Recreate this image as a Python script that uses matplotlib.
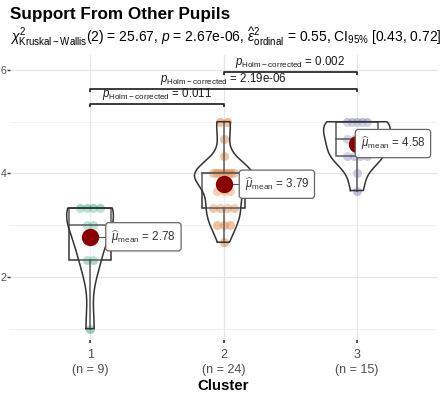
import numpy as np
import matplotlib
matplotlib.use("Agg")
import matplotlib.pyplot as plt
from matplotlib.patches import Rectangle

plt.rcParams['font.family'] = ['Liberation Sans', 'DejaVu Sans']
plt.rcParams['mathtext.fontset'] = 'custom'
plt.rcParams['mathtext.rm'] = 'Liberation Sans'
plt.rcParams['mathtext.it'] = 'Liberation Sans:italic'
plt.rcParams['mathtext.bf'] = 'Liberation Sans:bold'

# ---- data -------------------------------------------------------------
clusters = ["1", "2", "3"]
cluster1 = [3.33, 3.33, 3.33, 3.33, 3.0, 3.0, 2.33, 2.33, 1.0]
cluster2 = [5.0, 5.0, 4.67, 4.33, 4.0, 4.0, 4.0, 4.0, 4.0, 4.0, 4.0, 4.0, 4.0,
            3.67, 3.67, 3.67, 3.33, 3.33, 3.33, 3.33, 3.0, 3.0, 3.0, 2.67]
cluster3 = [5.0, 5.0, 5.0, 5.0, 5.0, 4.67, 4.67, 4.67, 4.67,
            4.33, 4.33, 4.33, 4.33, 4.0, 3.67]
groups = [cluster1, cluster2, cluster3]

pair_groups = [(1, 2), (1, 3), (2, 3)]
pair_pvalues = ["0.011", "2.19e-06", "0.002"]
pair_heights = [5.34, 5.63, 5.96]

title = "Support From Other Pupils"
subtitle = (r"$\chi^2_{\mathrm{Kruskal-Wallis}}$(2) = 25.67, $\mathit{p}$ = 2.67e-06, "
            r"$\widehat{\varepsilon}^2_{\mathrm{ordinal}}$ = 0.55, CI$_{95\%}$ [0.43, 0.72]")
xlabel = "Cluster"

colors = ["#1B9E77", "#D95F02", "#7570B3"]
label_dx = [0.40, 0.40, 0.27]

# ---- helpers ----------------------------------------------------------
def bw_nrd0(x):
    x = np.asarray(x)
    sd = x.std(ddof=1)
    iqr = np.subtract(*np.percentile(x, [75, 25]))
    lo = min(sd, iqr / 1.34)
    if lo == 0:
        lo = sd
    return 0.9 * lo * len(x) ** -0.2


def kde(x, grid):
    x = np.asarray(x)
    h = bw_nrd0(x)
    z = (grid[:, None] - x[None, :]) / h
    return np.exp(-0.5 * z ** 2).sum(axis=1) / (len(x) * h * np.sqrt(2 * np.pi))


# ---- figure -----------------------------------------------------------
W, H = 446, 393
fig = plt.figure(figsize=(W / 100, H / 100), dpi=100)
ax = fig.add_axes([10 / W, 53 / H, 427 / W, 285 / H])
ax.set_xlim(0.4, 3.6)
ax.set_ylim(0.78, 6.29)

for s in ax.spines.values():
    s.set_visible(False)

ax.set_yticks([2, 4, 6])
ax.set_yticks([1, 3, 5], minor=True)
ax.set_xticks([1, 2, 3])
ax.set_xticklabels([f"{c}\n(n = {len(g)})" for c, g in zip(clusters, groups)],
                   linespacing=1.3)
ax.tick_params(axis='x', length=2.5, width=1.2, color="#333333", pad=4,
               labelsize=9, labelcolor="#4D4D4D")
ax.tick_params(axis='y', which='major', length=2.0, width=1.0, color="#333333",
               pad=0.8, labelsize=7.5, labelcolor="#4D4D4D")
ax.tick_params(axis='y', which='minor', length=0)
ax.grid(True, which='major', axis='both', color="#E6E6E6", lw=0.9)
ax.grid(True, which='minor', axis='y', color="#EFEFEF", lw=0.6)
ax.set_axisbelow(True)
ax.set_xlabel(xlabel, fontsize=10.8, fontweight='bold', labelpad=2)

# densities for the violins (area scaling across groups)
grids, dens = [], []
for g in groups:
    grid = np.linspace(min(g), max(g), 512)
    grids.append(grid)
    dens.append(kde(g, grid))
dmax = max(d.max() for d in dens)

for i, g in enumerate(groups):
    xc = i + 1
    vals = np.asarray(g)

    # jittered points, spread evenly across ties
    xs = np.empty(len(vals))
    for v in np.unique(vals):
        idx = np.where(vals == v)[0]
        k = len(idx)
        step = min(0.05, 0.15 / max(k - 1, 1))
        xs[idx] = xc + (np.arange(k) - (k - 1) / 2) * step
    ax.scatter(xs, vals, s=42, color=colors[i], alpha=0.45, lw=0, zorder=2)

    # box
    q1, med, q3 = np.percentile(vals, [25, 50, 75])
    iqr = q3 - q1
    lo = vals[vals >= q1 - 1.5 * iqr].min()
    hi = vals[vals <= q3 + 1.5 * iqr].max()
    bw = 0.16
    ax.add_patch(Rectangle((xc - bw, q1), 2 * bw, q3 - q1, fc=(1, 1, 1, 0.2),
                           ec="#333333", lw=1.1, zorder=3))
    ax.plot([xc - bw, xc + bw], [med, med], color="#333333", lw=1.1, zorder=3)
    ax.plot([xc, xc], [q3, hi], color="#333333", lw=1.1, zorder=3)
    ax.plot([xc, xc], [lo, q1], color="#333333", lw=1.1, zorder=3)

    # violin
    half = dens[i] / dmax * 0.25
    gy = grids[i]
    ax.fill_betweenx(gy, xc - half, xc + half, color=(1, 1, 1, 0.2), lw=0, zorder=3)
    outline_x = np.concatenate([xc - half, (xc + half)[::-1], [xc - half[0]]])
    outline_y = np.concatenate([gy, gy[::-1], [gy[0]]])
    ax.plot(outline_x, outline_y, color="#333333", lw=1.1, zorder=3)

    # mean and its label
    m = vals.mean()
    lx = xc + label_dx[i]
    ax.plot([xc, lx - 0.25], [m, m], color="#555555", lw=0.8, zorder=4)
    ax.plot([xc], [m], 'o', ms=12.5, color="#8B0000", mec="none", zorder=5)
    ax.text(lx, m, r"$\widehat{\mu}_{\mathrm{mean}}$ = " + f"{m:.2f}",
            fontsize=8.4, color="#333333", ha='center', va='center', zorder=6,
            bbox=dict(boxstyle="round,pad=0.45,rounding_size=0.25", fc="white",
                      ec="#666666", lw=0.9))

# pairwise comparison brackets
tip = 0.05
for (a, b), p, yb in zip(pair_groups, pair_pvalues, pair_heights):
    ax.plot([a, a, b, b], [yb - tip, yb, yb, yb - tip], color="#1A1A1A",
            lw=1.2, zorder=4, solid_capstyle='butt')
    ax.text((a + b) / 2, yb + 0.035, r"$p_{\mathrm{Holm-corrected}}$ = " + p,
            fontsize=8.3, ha='center', va='bottom', color="#1A1A1A", zorder=4)

fig.text(10 / W, 1 - 15 / H, title, fontsize=12.3, fontweight='bold',
         ha='left', va='center')
fig.text(10 / W, 1 - 42 / H, subtitle, fontsize=10.0, ha='left', va='baseline')

fig.savefig("out.png", dpi=100)
